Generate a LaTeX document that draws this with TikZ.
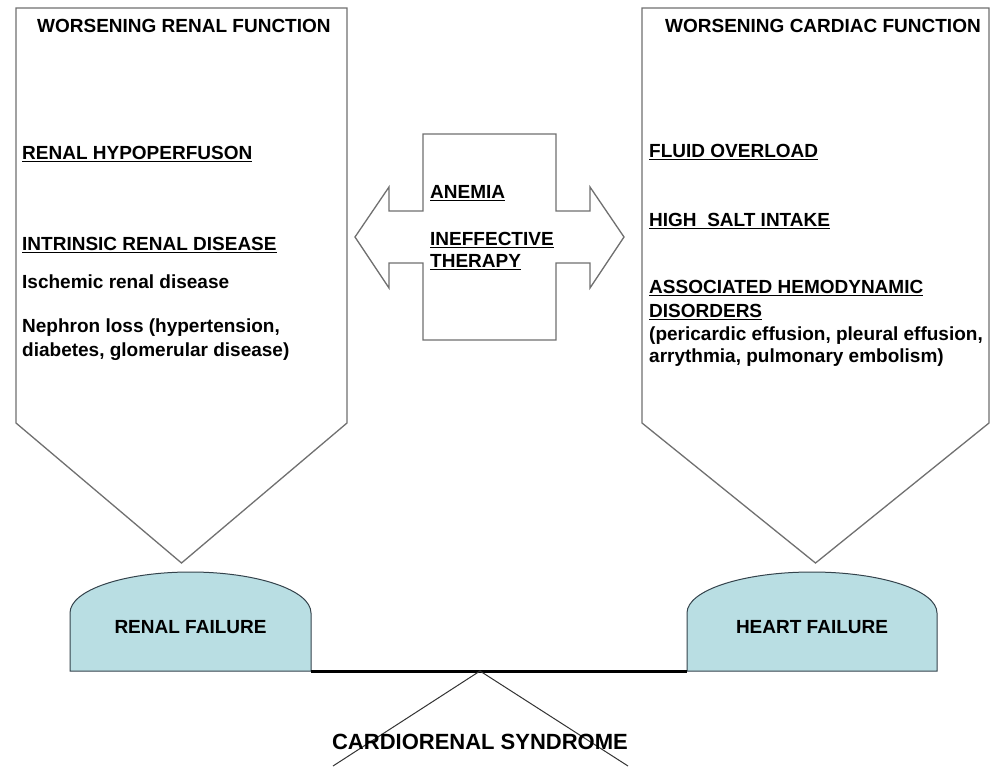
\documentclass[tikz,border=0pt]{standalone}
\usepackage{fontspec}
\setmainfont{Liberation Sans}
\usetikzlibrary{calc}
\definecolor{boxgray}{HTML}{707070}
\definecolor{domeblue}{HTML}{B9DEE3}
\definecolor{domeedge}{HTML}{34434C}
\newcommand{\undl}[1]{\vtop{\hbox{#1}\kern1.6pt\hrule height 1.3pt}}

\begin{document}
\begin{tikzpicture}[x=1pt, y=-1pt, font=\fontsize{19}{22}\selectfont\bfseries,
	boxline/.style={draw=boxgray, line width=1.3pt},
	txt/.style={anchor=base west, inner sep=0pt},
	dome/.style={draw=domeedge, fill=domeblue, line width=1pt}]
	\useasboundingbox [fill=white] (0,0) rectangle (990,766);
	\coordinate (RT) at (181.5,563);
	\coordinate (HT) at (815.5,563);
	\draw [boxline] (16,8) -- (347,8) -- (347,423) -- (RT) -- (16,423) -- cycle;
	\draw [boxline] (642,8) -- (989,8) -- (989,423) -- (HT) -- (642,423) -- cycle;
	\draw [boxline] (423,134) -- (556,134) -- (556,211) -- (590,211) -- (590,187) -- (624,237)
		-- (590,288) -- (590,263) -- (556,263) -- (556,340) -- (423,340) -- (423,263)
		-- (389,263) -- (389,288) -- (355,237) -- (389,187) -- (389,211) -- (423,211) -- cycle;
	\coordinate (RL) at (70,671);
	\coordinate (RR) at (311,671);
	\coordinate (HL) at (687,671);
	\coordinate (HR) at (937,671);
	\draw [dome] (RL) -- (70,613) .. controls (70,590) and (124.5,572) .. (190.5,572)
		.. controls (256.5,572) and (311,590) .. (311,613) -- (RR) -- cycle;
	\draw [dome] (HL) -- (687,613) .. controls (687,590) and (744,572) .. (812,572)
		.. controls (880,572) and (937,590) .. (937,613) -- (HR) -- cycle;
	\draw [line width=3pt] (RR) -- (HL);
	\coordinate (F) at (480,671);
	\draw [line width=1pt, black!80] (333,766) -- (F) -- (628,766);
	\node [txt] at (37,32) {WORSENING RENAL FUNCTION};
	\node [txt] at (22,159) {\undl{RENAL HYPOPERFUSON}};
	\node [txt] at (22,250) {\undl{INTRINSIC RENAL DISEASE}};
	\node [txt] at (22,288) {Ischemic renal disease};
	\node [txt] at (22,332) {Nephron loss (hypertension,};
	\node [txt] at (22,356) {diabetes, glomerular disease)};
	\node [txt] at (665,32) {WORSENING CARDIAC FUNCTION};
	\node [txt] at (649,157) {\undl{FLUID OVERLOAD}};
	\node [txt] at (649,226) {\undl{HIGH\ \ SALT INTAKE}};
	\node [txt] at (649,293) {\undl{ASSOCIATED HEMODYNAMIC}};
	\node [txt] at (649,317) {\undl{DISORDERS}};
	\node [txt] at (649,340) {(pericardic effusion, pleural effusion,};
	\node [txt] at (649,362) {arrythmia, pulmonary embolism)};
	\node [txt] at (430,198) {\undl{ANEMIA}};
	\node [txt] at (430,245) {\undl{INEFFECTIVE}};
	\node [txt] at (430,267) {\undl{THERAPY}};
	\node (renal) at (190.5,627) {RENAL FAILURE};
	\node (heart) at (812,627) {HEART FAILURE};
	\node (crs) [font=\fontsize{22}{26}\selectfont\bfseries] at (480,742) {CARDIORENAL SYNDROME};
\end{tikzpicture}
\end{document}
